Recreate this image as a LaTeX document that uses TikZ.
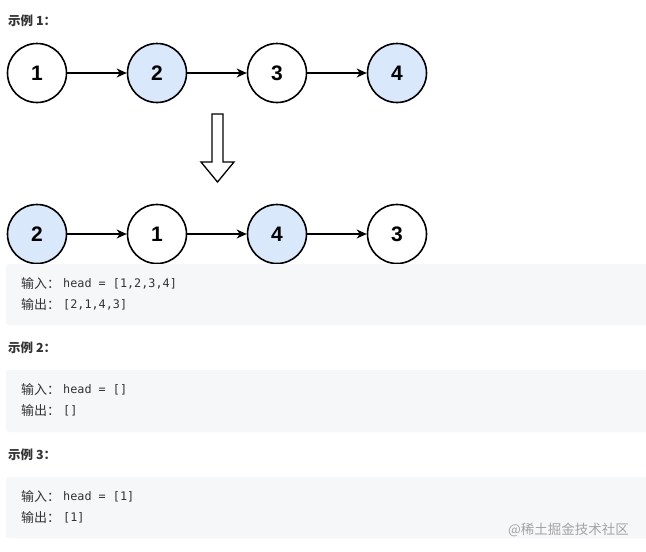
\documentclass[tikz,border=0pt]{standalone}
\usepackage{fontspec}
\setmainfont{Liberation Sans}
\setmonofont{DejaVu Sans Mono}
\newfontfamily\cjk{Noto Sans CJK SC}
\usetikzlibrary{arrows.meta}
\definecolor{nodeblue}{HTML}{DAE8FC}
\definecolor{codebg}{HTML}{F6F7F8}
\definecolor{codetext}{HTML}{333333}
\definecolor{marktext}{HTML}{A3A3A3}
\tikzset{
  item/.style={circle, draw, line width=1.6pt, minimum size=59pt, inner sep=0pt,
    font=\fontsize{21}{21}\selectfont\bfseries},
  marked/.style={item, fill=nodeblue},
  link/.style={line width=1.3pt, -{Stealth[length=10pt,width=9pt,inset=3pt]}},
  title/.style={anchor=west, inner sep=0pt, font=\cjk\bfseries\fontsize{12.5}{14}\selectfont, text=codetext},
  label/.style={anchor=west, inner sep=0pt, font=\cjk\fontsize{13}{14}\selectfont, text=codetext},
  code/.style={anchor=west, inner sep=0pt, font=\ttfamily\fontsize{11.8}{14}\selectfont, text=codetext},
  box/.style={fill=codebg, rounded corners=3pt}
}
\begin{document}
\begin{tikzpicture}[x=1pt,y=-1pt]
  \useasboundingbox[fill=white] (0,0) rectangle (646,552);
  % example 1
  \node[title] (t1) at (8,21) {示例 1：};
  \draw
    (37,73) node[item] (1){1}
    (157,73) node[marked] (2){2}
    (277,73) node[item] (3){3}
    (397,73) node[marked] (4){4};
  \begin{scope}[link]
    \draw (1) -- (2);
    \draw (2) -- (3);
    \draw (3) -- (4);
  \end{scope}
  % swap arrow
  \draw[line width=1.3pt, fill=white]
    (212,114) -- (223,114) -- (223,162) -- (234,162) -- (217.5,182)
    -- (201,162) -- (212,162) -- cycle;
  \draw
    (37,234) node[marked] (s2){2}
    (157,234) node[item] (s1){1}
    (277,234) node[marked] (s4){4}
    (397,234) node[item] (s3){3};
  \begin{scope}[link]
    \draw (s2) -- (s1);
    \draw (s1) -- (s4);
    \draw (s4) -- (s3);
  \end{scope}
  \fill[box] (6,264) rectangle (652,325);
  \node[label] (in1) at (21,284) {输入：};
  \node[code] (c1) at (63,284) {head = [1,2,3,4]};
  \node[label] (out1) at (21,305) {输出：};
  \node[code] (d1) at (63,305) {[2,1,4,3]};
  % example 2
  \node[title] (t2) at (8,348) {示例 2：};
  \fill[box] (6,370) rectangle (652,432);
  \node[label] (in2) at (21,390) {输入：};
  \node[code] (c2) at (63,390) {head = []};
  \node[label] (out2) at (21,411) {输出：};
  \node[code] (d2) at (63,411) {[]};
  % example 3
  \node[title] (t3) at (8,455) {示例 3：};
  \fill[box] (6,477) rectangle (652,538);
  \node[label] (in3) at (21,497) {输入：};
  \node[code] (c3) at (63,497) {head = [1]};
  \node[label] (out3) at (21,518) {输出：};
  \node[code] (d3) at (63,518) {[1]};
  \node[anchor=west, inner sep=0pt, font=\cjk\fontsize{13.5}{14}\selectfont, text=marktext]
    (mark) at (508,530) {@稀土掘金技术社区};
\end{tikzpicture}
\end{document}
